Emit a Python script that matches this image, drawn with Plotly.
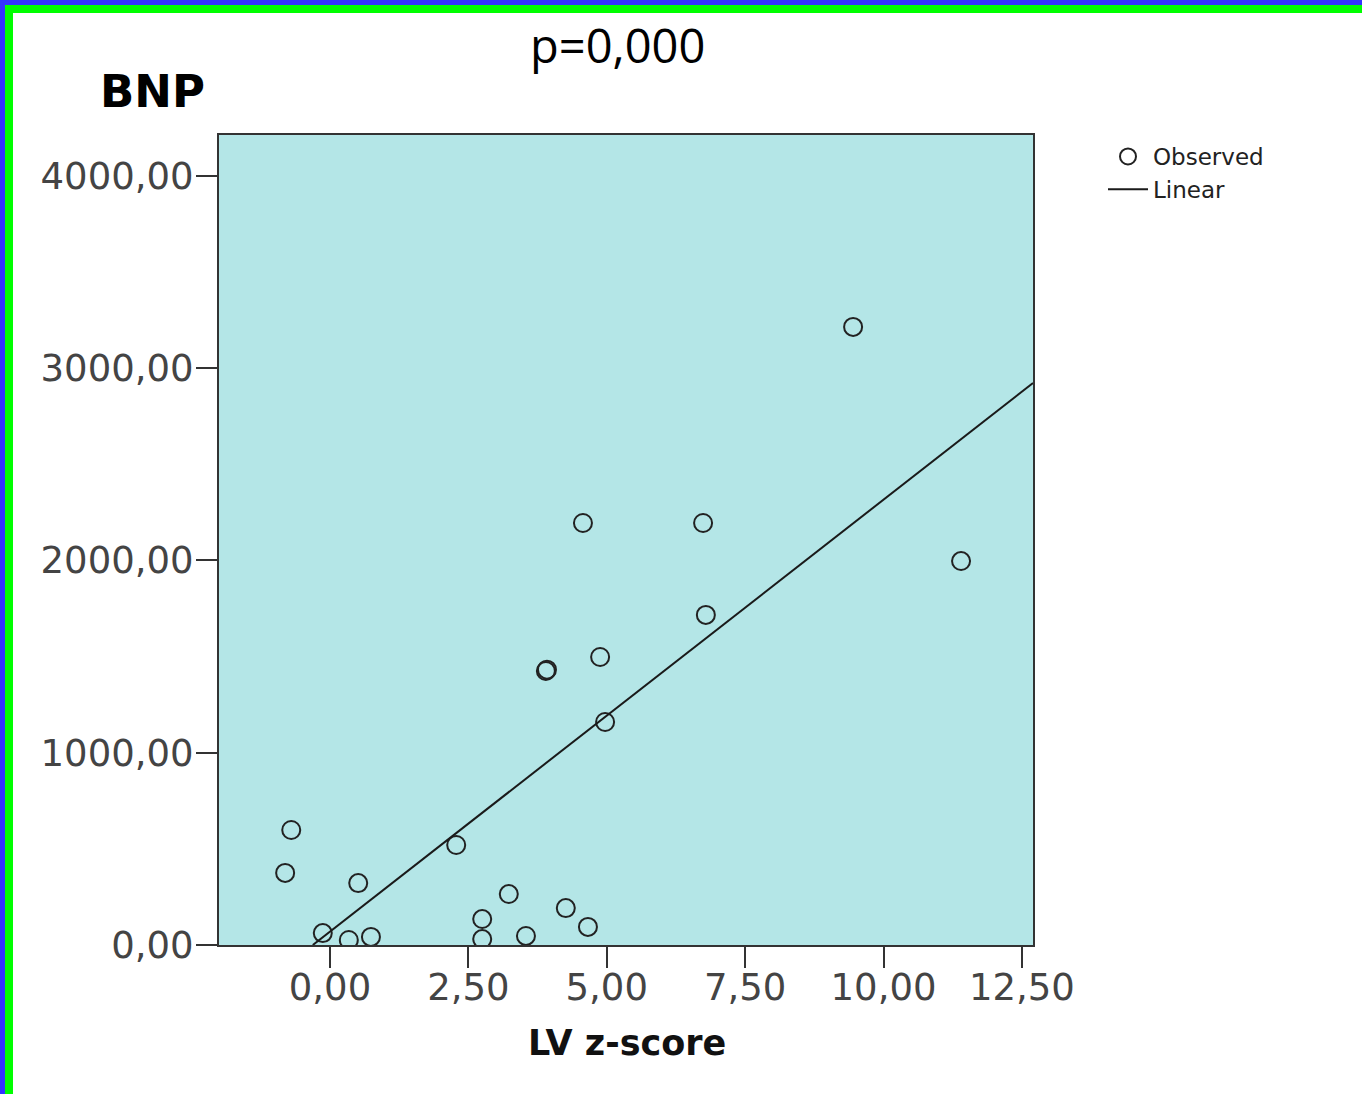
import plotly.graph_objects as go

# ---- data ----
lv_zscore = [-0.70, -0.81, 0.51, -0.13, 0.34, 0.74, 2.28, 2.75, 2.75, 3.23, 3.54,
             4.26, 4.66, 3.90, 3.92, 4.88, 4.97, 4.57, 6.74, 6.79, 9.45, 11.40]
bnp = [598, 375, 322, 62, 26, 42, 520, 135, 31, 265, 47,
       192, 94, 1425, 1432, 1498, 1160, 2195, 2195, 1717, 3215, 1997]

linear_x = [-0.31, 12.70]
linear_y = [0, 2923]

x_tickvals = [0, 2.5, 5, 7.5, 10, 12.5]
x_ticktext = ["0,00", "2,50", "5,00", "7,50", "10,00", "12,50"]
y_tickvals = [0, 1000, 2000, 3000, 4000]
y_ticktext = ["0,00", "1000,00", "2000,00", "3000,00", "4000,00"]

title_text = "p=0,000"
y_title = "BNP"
x_title = "LV z-score"

# ---- layout geometry ----
W, H = 1362, 1094
L, R, T, B = 219, 1033, 135, 945


def px_x(p):
    return (p - L) / (R - L)


def px_y(p):
    return (B - p) / (B - T)


fig = go.Figure()
fig.add_trace(go.Scatter(
    x=lv_zscore, y=bnp, mode="markers", name="Observed",
    marker=dict(symbol="circle-open", size=18, color="#222222",
                line=dict(width=2, color="#222222")),
))
fig.add_trace(go.Scatter(
    x=linear_x, y=linear_y, mode="lines", name="Linear",
    line=dict(color="#1a1a1a", width=2),
))

axis_common = dict(
    showline=True, linecolor="#333333", linewidth=2, mirror=True,
    ticks="outside", ticklen=21, tickwidth=2, tickcolor="#333333",
    showgrid=False, zeroline=False,
    tickfont=dict(family="DejaVu Sans", size=37, color="#444444"),
)

fig.update_layout(
    width=W, height=H,
    margin=dict(l=L, r=W - R, t=T, b=H - B),
    paper_bgcolor="white",
    plot_bgcolor="#b4e6e7",
    showlegend=True,
    legend=dict(x=px_x(1103), y=px_y(135), xanchor="left", yanchor="top",
                font=dict(family="DejaVu Sans", size=23, color="#222222"),
                bgcolor="rgba(0,0,0,0)", tracegroupgap=0, itemwidth=40),
    xaxis=dict(range=[-2.005, 12.70], tickvals=x_tickvals, ticktext=x_ticktext,
               ticklabelstandoff=-12, **axis_common),
    yaxis=dict(range=[0, 4213], tickvals=y_tickvals, ticktext=y_ticktext,
               ticklabelstandoff=-5, **axis_common),
)

fig.add_annotation(text=title_text, xref="paper", yref="paper",
                   x=px_x(617), y=px_y(45), xanchor="center", yanchor="middle",
                   showarrow=False,
                   font=dict(family="Open Sans", size=47, color="black"))
fig.add_annotation(text="<b>" + y_title + "</b>", xref="paper", yref="paper",
                   x=px_x(152), y=px_y(92), xanchor="center", yanchor="middle",
                   showarrow=False,
                   font=dict(family="DejaVu Sans", size=45, color="black"))
fig.add_annotation(text="<b>" + x_title + "</b>", xref="paper", yref="paper",
                   x=px_x(627), y=px_y(1043), xanchor="center", yanchor="middle",
                   showarrow=False,
                   font=dict(family="DejaVu Sans", size=35, color="#111111"))

# frame border: blue outer strip, green inner strip (left and top)
shapes = [
    dict(x0=px_x(0), x1=px_x(W), y0=px_y(0), y1=px_y(5), color="#3333ff"),
    dict(x0=px_x(0), x1=px_x(5), y0=px_y(0), y1=px_y(H), color="#3333ff"),
    dict(x0=px_x(5), x1=px_x(W), y0=px_y(5), y1=px_y(13), color="#00ff00"),
    dict(x0=px_x(5), x1=px_x(13), y0=px_y(5), y1=px_y(H), color="#00ff00"),
]
for s in shapes:
    fig.add_shape(type="rect", xref="paper", yref="paper",
                  x0=s["x0"], x1=s["x1"], y0=s["y0"], y1=s["y1"],
                  fillcolor=s["color"], line=dict(width=0), layer="above")

fig.write_html("out.html",
               config={"displayModeBar": False},
               post_script="document.body.style.margin='0';"
                           "document.body.style.overflow='hidden';")
